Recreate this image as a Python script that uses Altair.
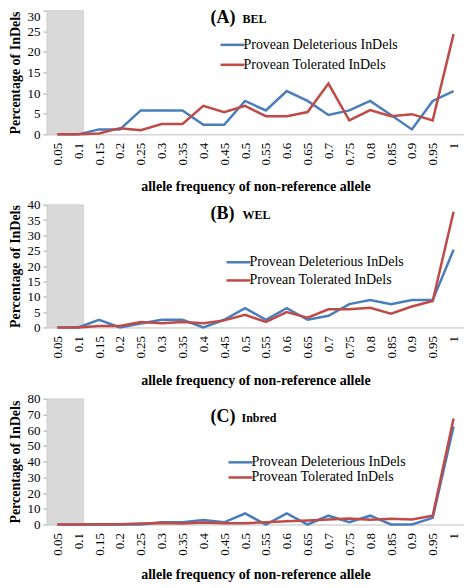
import altair as alt
import pandas as pd

# ---------------- data ----------------
freq = [0.05, 0.1, 0.15, 0.2, 0.25, 0.3, 0.35, 0.4, 0.45, 0.5,
        0.55, 0.6, 0.65, 0.7, 0.75, 0.8, 0.85, 0.9, 0.95, 1.0]
series_names = ["Provean Deleterious InDels", "Provean Tolerated InDels"]

bel_del = [0, 0, 1.2, 1.2, 5.8, 5.8, 5.8, 2.3, 2.3, 8.1,
           5.8, 10.5, 8.1, 4.7, 5.8, 8.1, 4.7, 1.2, 8.1, 10.5]
bel_tol = [0, 0, 0.2, 1.5, 1.0, 2.5, 2.5, 6.9, 5.4, 6.9,
           4.4, 4.4, 5.4, 12.3, 3.4, 5.9, 4.4, 4.9, 3.4, 24.3]

wel_del = [0, 0, 2.5, 0, 1.3, 2.5, 2.5, 0, 2.5, 6.3,
           2.5, 6.3, 2.5, 3.8, 7.6, 8.9, 7.6, 8.9, 8.9, 25.3]
wel_tol = [0, 0, 0.5, 0.5, 1.8, 1.4, 1.8, 1.4, 2.3, 4.1,
           1.8, 5.0, 3.2, 5.9, 5.9, 6.4, 4.5, 6.8, 8.6, 37.7]

inb_del = [0, 0, 0, 0, 0, 1.4, 1.4, 2.8, 1.4, 7.0,
           0, 7.0, 0, 5.6, 1.4, 5.6, 0, 0, 4.2, 62.4]
inb_tol = [0, 0, 0.1, 0.2, 0.6, 1.0, 0.6, 1.2, 0.8, 0.8,
           1.4, 2.0, 2.6, 3.2, 3.8, 3.0, 3.6, 3.2, 5.6, 67.4]

shade_range = [0.025, 0.113]   # grey excluded region
x_domain = [0.025, 1.025]

BLUE = "#4A7EBB"
RED = "#BE4B48"
FONT = "Liberation Serif"
PLOT_W = 418


def panel(letter, name, deleterious, tolerated, ymax, ystep, height,
          legend_x, legend_y, row_pad, title_y, name_x, x_title_pad,
          flush_top=False):
    df = pd.DataFrame({
        "freq": freq * 2,
        "pct": deleterious + tolerated,
        "series": [series_names[0]] * len(freq) + [series_names[1]] * len(freq),
    })
    xscale = alt.Scale(domain=x_domain, nice=False, zero=False)
    yscale = alt.Scale(domain=[0, ymax], nice=False, zero=True)
    xaxis = alt.Axis(values=freq, format="~g", labelAngle=-90, ticks=False,
                     grid=False, labelPadding=8,
                     title="allele frequency of non-reference allele",
                     titlePadding=x_title_pad)
    y_kwargs = dict(values=list(range(0, ymax + 1, ystep)), grid=False,
                    tickSize=4, labelPadding=3,
                    title="Percentage of InDels", titlePadding=4)
    if flush_top:
        y_kwargs["labelBaseline"] = {
            "condition": {"test": f"datum.value == {ymax}", "value": "top"},
            "value": "middle",
        }
    yaxis = alt.Axis(**y_kwargs)

    shade = alt.Chart(pd.DataFrame({"freq": [shade_range[0]],
                                    "freq_end": [shade_range[1]]})).mark_rect(
        fill="#D9D9D9", stroke="#C8C8C8", strokeWidth=0.6
    ).encode(
        x=alt.X("freq:Q", scale=xscale, axis=xaxis),
        x2="freq_end:Q",
        y=alt.datum(ymax, type="quantitative", scale=yscale, axis=yaxis),
        y2=alt.datum(0),
    )

    lines = alt.Chart(df).mark_line(strokeWidth=2.5).encode(
        x=alt.X("freq:Q", scale=xscale, axis=xaxis),
        y=alt.Y("pct:Q", scale=yscale, axis=yaxis),
        color=alt.Color(
            "series:N",
            scale=alt.Scale(domain=series_names, range=[BLUE, RED]),
            legend=alt.Legend(
                title=None, orient="none", legendX=legend_x, legendY=legend_y,
                symbolType="M-2.4,0L2.4,0", symbolSize=100,
                symbolStrokeWidth=2.5, labelOffset=4, rowPadding=row_pad,
                padding=0,
            ),
        ),
        detail="series:N",
    )

    t1 = alt.Chart(pd.DataFrame({"t": [letter]})).mark_text(
        align="left", baseline="alphabetic", font=FONT, fontSize=18,
        fontWeight="bold", color="#000000"
    ).encode(text="t:N", x=alt.value(164), y=alt.value(title_y))
    t2 = alt.Chart(pd.DataFrame({"t": [name]})).mark_text(
        align="left", baseline="alphabetic", font=FONT, fontSize=12,
        fontWeight="bold", color="#000000"
    ).encode(text="t:N", x=alt.value(name_x), y=alt.value(title_y))

    return alt.layer(shade, lines, t1, t2).properties(width=PLOT_W, height=height)


pA = panel("(A)", "BEL", bel_del, bel_tol, 30, 5, 124,
           179, 27.3, 6, 12.5, 196, 14.5, flush_top=True)
pB = panel("(B)", "WEL", wel_del, wel_tol, 40, 5, 123,
           185, 50.7, 4.2, 14, 196, 15.5)
pC = panel("(C)", "Inbred", inb_del, inb_tol, 80, 10, 126,
           187, 56.7, 1.2, 23, 195, 12)

chart = alt.vconcat(pA, pB, pC, spacing=4.5).resolve_scale(
    y="independent", color="independent"
).resolve_legend(color="independent").configure(
    padding=0, background="#FFFFFF", font=FONT
).configure_view(stroke=None).configure_axis(
    labelFont=FONT, labelFontSize=13, labelColor="#000000",
    titleFont=FONT, titleFontSize=14, titleFontWeight="bold",
    titleColor="#000000", domainColor="#BFBFBF", tickColor="#A6A6A6",
).configure_legend(
    labelFont=FONT, labelFontSize=14, labelColor="#000000",
)

chart.save("out.html", embed_options={"renderer": "svg", "actions": False})
